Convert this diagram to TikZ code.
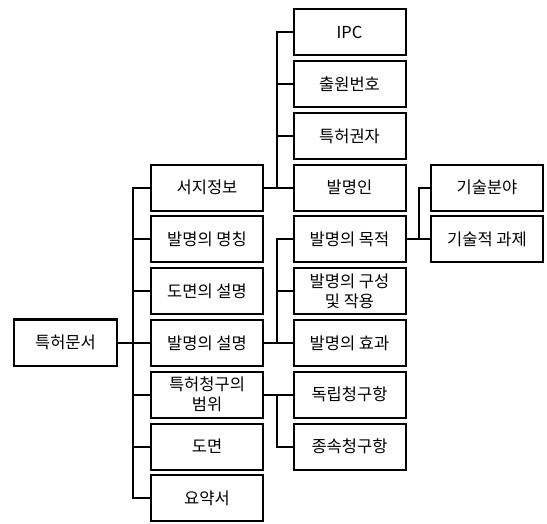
\documentclass[tikz,border=0pt]{standalone}
\usepackage{fontspec}
\setmainfont{Noto Sans CJK KR}
\begin{document}
\begin{tikzpicture}[x=1pt,y=-1pt,
  box/.style={draw=black,line width=2pt,minimum width=112pt,minimum height=46pt,
    inner sep=1pt,align=center,font=\fontsize{16.5}{20}\selectfont},
  wire/.style={line width=2pt,line join=miter}]
\useasboundingbox (0,0) rectangle (547,524);
\def\p{51.75}
% column 1
\node[box,minimum width=103pt] (root) at (65.5,342.5) {특허문서};
% column 2
\node[box] (seoji) at (207,{32.5+3*\p}) {서지정보};
\node[box] (name) at (207,{32.5+4*\p}) {발명의 명칭};
\node[box] (figdesc) at (207,{32.5+5*\p}) {도면의 설명};
\node[box] (desc) at (207,{32.5+6*\p}) {발명의 설명};
\node[box] (claims) at (207,{32.5+7*\p}) {특허청구의\\범위};
\node[box] (fig) at (207,{32.5+8*\p}) {도면};
\node[box] (abs) at (207,{32.5+9*\p}) {요약서};
% column 3
\node[box] (ipc) at (349.5,{32.5+0*\p}) {IPC};
\node[box] (appno) at (349.5,{32.5+1*\p}) {출원번호};
\node[box] (owner) at (349.5,{32.5+2*\p}) {특허권자};
\node[box] (inventor) at (349.5,{32.5+3*\p}) {발명인};
\node[box] (purpose) at (349.5,{32.5+4*\p}) {발명의 목적};
\node[box] (config) at (349.5,{32.5+5*\p}) {발명의 구성\\및 작용};
\node[box] (effect) at (349.5,{32.5+6*\p}) {발명의 효과};
\node[box] (indep) at (349.5,{32.5+7*\p}) {독립청구항};
\node[box] (dep) at (349.5,{32.5+8*\p}) {종속청구항};
% column 4
\node[box] (field) at (487,{32.5+3*\p}) {기술분야};
\node[box] (task) at (487,{32.5+4*\p}) {기술적 과제};
% bus coordinates
\coordinate (b2) at (133,0);
\coordinate (b3) at (277,0);
\coordinate (b4) at (419,0);
% root to column 2
\draw[wire] (root.east) -- (root.east -| b2);
\draw[wire] (seoji.west) -- (seoji.west -| b2) -- (abs.west -| b2) -- (abs.west);
\foreach \n in {name,figdesc,desc,claims,fig} \draw[wire] (\n.west) -- (\n.west -| b2);
% seoji group
\draw[wire] (seoji.east) -- (inventor.west);
\draw[wire] (inventor.west -| b3) -- (ipc.west -| b3) -- (ipc.west);
\foreach \n in {appno,owner} \draw[wire] (\n.west) -- (\n.west -| b3);
% desc group
\draw[wire] (desc.east) -- (effect.west);
\draw[wire] (effect.west -| b3) -- (purpose.west -| b3) -- (purpose.west);
\draw[wire] (config.west) -- (config.west -| b3);
% claims group
\draw[wire] (claims.east) -- (indep.west);
\draw[wire] (indep.west -| b3) -- (dep.west -| b3) -- (dep.west);
% purpose group
\draw[wire] (purpose.east) -- (task.west);
\draw[wire] (task.west -| b4) -- (field.west -| b4) -- (field.west);
\end{tikzpicture}
\end{document}
